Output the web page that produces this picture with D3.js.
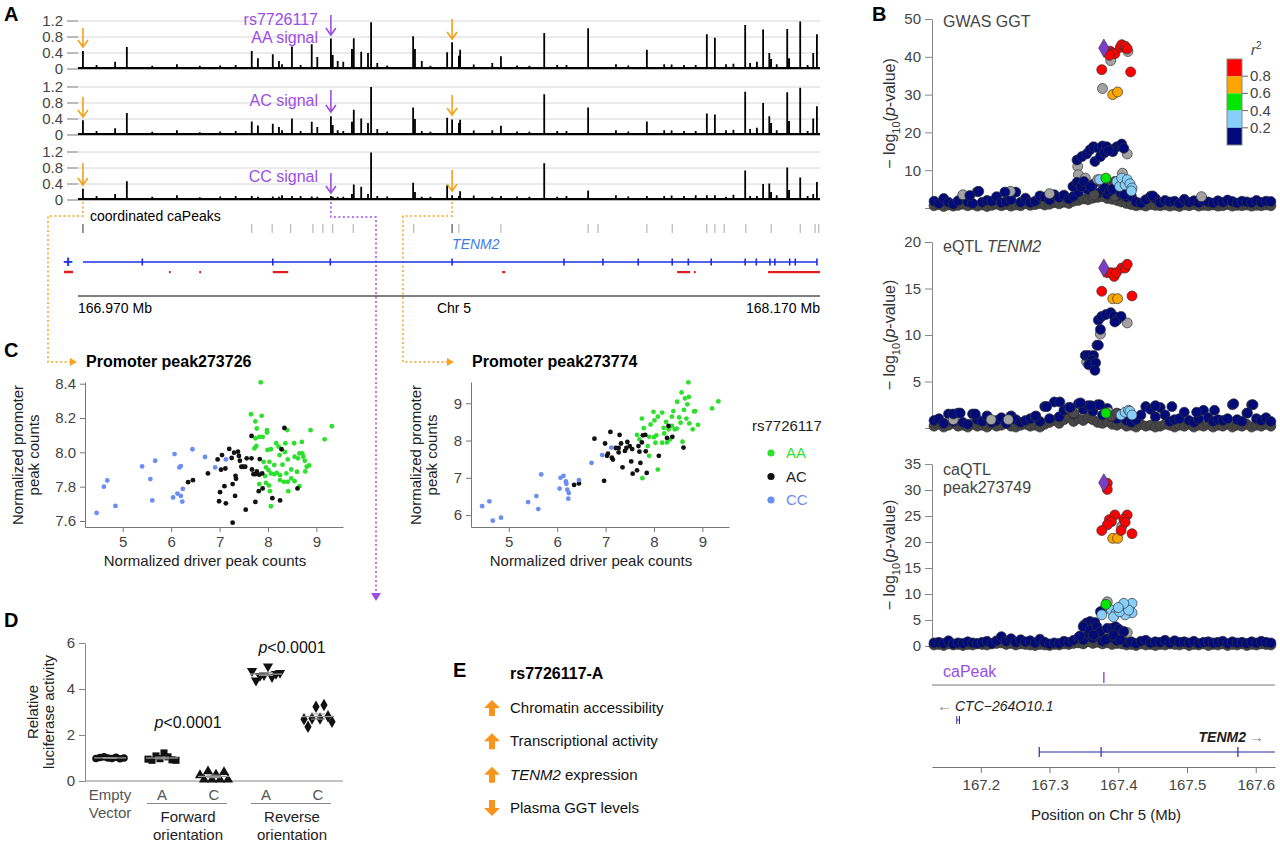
<!DOCTYPE html>
<html>
<head>
<meta charset="utf-8">
<script src="https://cdn.jsdelivr.net/npm/d3@7"></script>
<style>
  body { margin: 0; background: #fff; }
  svg { font-family: "Liberation Sans", Arial, Helvetica, sans-serif; }
</style>
</head>
<body>
<div id="canvas"></div>
<script>
// ================= DATA =================

// Panel A: signal peaks (Mb) and heights per genotype track
const peakPos = [166.978,167.030,167.049,167.167,167.251,167.261,167.285,167.295,167.316,167.348,
  167.357,167.379,167.382,167.390,167.399,167.413,167.416,167.428,167.439,167.444,
  167.454,167.512,167.515,167.526,167.567,167.575,167.586,167.588,167.640,167.654,
  167.724,167.745,167.795,167.890,167.918,167.969,167.987,168.000,168.018,168.049,
  168.057,168.068,168.078,168.088,168.091,168.117,168.120,168.138,168.159,168.165];
const peakAA = [0.45,0.18,0.55,0.08,0.45,0.27,0.37,0.20,0.56,0.62, 0.30,0.76,0.35,0.20,0.18,0.50,0.77,0.43,0.40,1.17,
  0.15,0.82,0.50,0.20,0.42,0.67,0.33,0.48,0.15,0.32, 0.90,0.10,1.02,0.48,0.12,0.10,0.87,0.78,0.12,1.10,
  0.15,0.18,0.99,0.40,0.25,1.00,0.27,1.19,0.40,0.87];
const peakAC = [0.37,0.17,0.55,0.07,0.34,0.24,0.28,0.20,0.41,0.33, 0.20,0.47,0.25,0.12,0.10,0.33,0.63,0.41,0.30,1.20,
  0.15,0.69,0.40,0.10,0.43,0.39,0.30,0.38,0.12,0.23, 1.02,0.10,0.69,0.34,0.12,0.10,0.54,0.51,0.12,1.08,
  0.15,0.18,0.80,0.47,0.30,1.07,0.35,1.18,0.41,0.72];
const peakCC = [0.28,0.15,0.47,0.07,0.10,0.08,0.09,0.08,0.10,0.09, 0.08,0.10,0.08,0.08,0.08,0.15,0.39,0.33,0.15,1.19,
  0.10,0.43,0.20,0.08,0.37,0.12,0.10,0.22,0.08,0.10, 0.92,0.08,0.24,0.10,0.10,0.12,0.12,0.12,0.08,0.74,
  0.10,0.10,0.40,0.41,0.20,0.81,0.25,0.56,0.15,0.45];
const minorPos = [167.000,167.090,167.130,167.200,167.225,167.300,167.330,167.470,167.540,167.610,
  167.680,167.700,167.760,167.840,167.860,167.930,167.950,168.030,168.100,168.150];
const minorH = [0.10,0.08,0.12,0.09,0.10,0.12,0.10,0.09,0.08,0.11,0.09,0.08,0.10,0.12,0.09,0.11,0.10,0.13,0.12,0.10];
const trackTicks = [0, 0.4, 0.8, 1.2];

const caPeakPos = [166.978,167.251,167.284,167.314,167.350,167.366,167.382,167.415,167.513,167.575,
  167.586,167.654,167.795,167.811,167.890,167.931,167.987,168.000,168.015,168.050,168.091,168.138,168.162,168.168];
const caPeakDark = [166.978, 167.575];
const tenm2Span = [166.978, 168.165];
const tenm2Exons = [167.074,167.285,167.378,167.575,167.756,167.819,167.876,167.931,167.957,167.994,
  168.049,168.067,168.089,168.097,168.121,168.130,168.165];
const minusFeatures = [[167.117,167.120],[167.166,167.169],[167.285,167.310],[167.656,167.661],
  [167.939,167.960],[167.966,167.969],[168.086,168.170]];
const snpPos = 167.379;

// Panel B: LocusZoom points [position Mb, -log10 p]
const bgPos = [167.132,167.139,167.146,167.153,167.160,167.167,167.174,167.181,167.188,167.195,
  167.202,167.209,167.216,167.223,167.230,167.237,167.244,167.251,167.258,167.265,
  167.272,167.279,167.286,167.293,167.300,167.307,167.314,167.321,167.328,167.335,
  167.342,167.349,167.356,167.363,167.370,167.377,167.384,167.391,167.398,167.405,
  167.412,167.419,167.426,167.433,167.440,167.447,167.454,167.461,167.468,167.475,
  167.482,167.489,167.496,167.503,167.510,167.517,167.524,167.531,167.538,167.545,
  167.552,167.559,167.566,167.573,167.580,167.587,167.594,167.601,167.608,167.615,167.622];

const gwasBgNavy = [1.8,1.2,2.5,1.5,1.0,1.9,3.3,1.6,1.2,4.3, 1.5,2.0,1.8,3.0,1.4,1.7,2.2,4.2,1.5,2.6,
  1.4,1.8,3.2,2.9,2.1,3.5,2.8,3.4,2.4,3.1, 4.2,5.6,4.8,6.2,3.9,4.6,3.6,4.4,3.2,3.8,
  2.9,3.1,1.6,1.3,2.2,3.1,2.5,1.4,2.0,1.6, 1.8,1.2,2.3,1.5,1.9,1.4,2.0,1.6,1.3,1.9,
  1.5,2.1,1.7,1.3,1.8,1.6,1.4,2.0,1.5,1.8,1.7];
const gwasBgDark = [0.6,0.9,0.4,0.8,0.5,0.7,1.0,0.6,0.9,0.5, 0.8,0.4,0.7,1.0,0.6,0.9,0.5,0.8,0.6,1.1,
  0.7,0.9,1.2,0.8,1.0,1.4,1.1,1.5,1.2,1.8, 2.0,2.4,2.2,2.6,2.8,3.0,2.5,2.3,2.0,1.6,
  1.2,0.9,0.6,0.8,0.5,0.9,0.7,0.6,0.8,0.5, 0.7,0.4,0.8,0.6,0.9,0.5,0.7,0.6,0.8,0.5,
  0.6,0.9,0.5,0.7,0.6,0.8,0.5,0.7,0.6,0.8,0.6];
const gwasLead = [[167.379,42.3]];
const gwasRed = [[167.385,41.0],[167.388,41.5],[167.391,41.0],[167.395,40.8],[167.387,40.4],[167.403,42.5],
  [167.405,43.2],[167.410,42.8],[167.413,42.1],[167.376,36.6],[167.418,36.0]];
const gwasOrange = [[167.392,30.0],[167.399,30.7]];
const gwasGreen = [[167.382,7.9]];
const gwasLightBlue = [[167.373,7.5],[167.398,7.0],[167.402,5.7],[167.405,7.9],[167.410,6.1],[167.413,7.5],
  [167.417,6.4],[167.420,5.3],[167.419,4.5]];
const gwasGray = [[167.377,31.6],[167.389,39.0],[167.414,41.4],[167.341,11.0],[167.413,14.3],[167.342,8.8],
  [167.406,9.2],[167.352,7.9],[167.370,7.5],[167.174,3.5],[167.243,4.4],[167.521,3.0],[167.300,3.8]];
const gwasDark = [[167.375,6.8],[167.385,6.5],[167.390,6.2],[167.395,7.0],[167.400,6.6],[167.365,3.5],[167.395,3.2]];
const gwasNavy = [[167.340,12.7],[167.347,13.6],[167.354,14.3],[167.359,15.4],[167.364,16.2],[167.371,15.8],
  [167.377,16.4],[167.383,16.2],[167.392,15.5],[167.398,16.2],[167.405,16.9],[167.408,15.8],[167.366,12.3],
  [167.374,13.6],[167.380,14.6],[167.392,14.9],[167.386,15.2],[167.334,5.7],[167.340,6.8],[167.346,5.7],
  [167.350,7.0],[167.360,5.7],[167.380,5.3],[167.387,4.4],[167.392,5.0],[167.404,3.9],[167.409,3.5],
  [167.184,3.3],[167.197,4.4],[167.235,4.2],[167.450,3.2]];

const eqtlBgNavy = [0.8,1.0,0.5,1.5,0.7,1.6,0.6,0.4,1.5,0.9, 0.7,1.3,0.6,0.8,1.1,0.5,1.3,0.9,0.6,0.8,
  1.0,1.2,0.7,2.3,1.0,2.8,1.2,1.9,2.2,1.5, 2.6,2.0,2.4,1.8,2.5,1.4,2.1,1.2,1.0,1.3,
  0.8,0.6,0.9,1.4,2.3,2.0,1.2,2.2,1.4,0.7, 0.9,1.0,1.7,0.8,0.6,1.0,1.9,1.1,0.7,0.9,
  0.8,1.0,2.5,0.9,0.7,1.6,2.5,1.0,0.8,1.1,0.7];
const eqtlBgDark = [0.2,0.4,0.1,0.3,0.5,0.2,0.3,0.1,0.4,0.2, 0.3,0.1,0.4,0.2,0.3,0.5,0.2,0.1,0.3,0.4,
  0.2,0.3,0.1,0.4,0.6,0.8,0.5,0.9,1.2,0.7, 1.0,0.8,1.1,0.9,0.6,0.5,0.7,0.4,0.3,0.5,
  0.2,0.3,0.1,0.4,0.2,0.3,0.1,0.2,0.4,0.3, 0.1,0.3,0.2,0.4,0.1,0.3,0.2,0.4,0.1,0.3,
  0.2,0.4,0.1,0.3,0.2,0.4,0.1,0.3,0.2,0.4,0.2];
const eqtlLead = [[167.379,17.2]];
const eqtlRed = [[167.384,16.7],[167.390,16.7],[167.394,16.3],[167.397,16.7],[167.405,17.2],[167.410,17.2],
  [167.413,17.6],[167.376,14.7],[167.420,14.2]];
const eqtlOrange = [[167.392,13.9],[167.399,13.9]];
const eqtlGreen = [[167.382,1.6]];
const eqtlLightBlue = [[167.404,1.4],[167.410,1.7],[167.415,1.9],[167.417,1.8],[167.420,1.4]];
const eqtlGray = [[167.374,10.1],[167.413,11.3],[167.354,7.1],[167.386,1.7],[167.160,0.9],[167.215,0.9],[167.240,0.9]];
const eqtlDark = [[167.330,2.0],[167.335,1.6],[167.390,1.3],[167.398,1.6]];
const eqtlNavy = [[167.371,11.6],[167.376,12.0],[167.382,12.2],[167.389,12.4],[167.394,12.0],[167.398,11.6],
  [167.404,12.0],[167.395,11.4],[167.374,10.6],[167.369,8.9],[167.371,8.9],[167.352,7.8],[167.357,7.8],
  [167.364,7.8],[167.362,7.3],[167.357,6.8],[167.367,7.0],[167.366,6.2],[167.296,2.3],[167.315,2.8],
  [167.345,2.7],[167.373,2.5],[167.454,2.4],[167.478,2.3],[167.568,2.6],[167.596,2.5],[167.160,1.5],
  [167.170,1.6],[167.192,1.5],[167.280,1.3],[167.514,1.7],[167.540,1.9],[167.588,1.6],[167.330,2.2],[167.360,2.4]];

const caBgNavy = [0.6,0.7,0.5,1.0,0.4,0.6,0.5,0.8,0.6,0.5, 0.7,0.9,0.5,1.0,1.8,0.9,1.4,0.7,1.2,0.8,
  1.0,0.6,1.3,0.7,0.4,0.6,0.5,0.9,0.7,1.1, 1.6,1.2,2.3,1.5,1.9,0.9,1.4,1.6,1.0,1.3,
  0.6,0.8,0.5,0.9,1.1,0.6,0.8,0.7,1.1,0.6, 1.0,0.7,0.8,0.6,0.9,0.5,0.7,0.8,0.6,0.7,
  0.9,0.5,0.8,0.6,0.7,0.5,0.8,0.6,0.9,0.7,0.6];
const caBgDark = [0.2,0.3,0.1,0.4,0.2,0.3,0.1,0.3,0.2,0.4, 0.3,0.2,0.4,0.5,0.6,0.3,0.5,0.2,0.4,0.3,
  0.2,0.1,0.3,0.2,0.1,0.3,0.2,0.4,0.3,0.5, 0.6,0.4,0.8,0.5,0.7,0.4,0.6,0.3,0.5,0.4,
  0.2,0.3,0.1,0.4,0.2,0.3,0.1,0.3,0.2,0.4, 0.3,0.2,0.4,0.1,0.3,0.2,0.4,0.1,0.3,0.2,
  0.4,0.1,0.3,0.2,0.4,0.1,0.3,0.2,0.4,0.3,0.2];
const caLead = [[167.379,31.4]];
const caRed = [[167.384,31.3],[167.384,30.1],[167.387,24.3],[167.395,25.2],[167.390,23.9],[167.384,23.3],
  [167.413,25.2],[167.408,24.4],[167.410,23.8],[167.404,22.2],[167.376,22.2],[167.420,21.6]];
const caOrange = [[167.392,20.7],[167.399,20.7]];
const caGreen = [[167.382,8.0]];
const caLightBlue = [[167.390,6.9],[167.397,6.4],[167.405,7.6],[167.413,7.7],[167.420,8.2],[167.420,6.4],
  [167.410,6.0],[167.393,5.6],[167.376,6.0],[167.402,6.6],[167.415,6.9],[167.408,8.2],[167.400,7.4]];
const caGray = [[167.405,23.0],[167.384,8.5],[167.378,6.9],[167.413,2.6],[167.354,4.4],[167.406,2.4]];
const caDark = [[167.350,4.0],[167.356,3.6]];
const caNavy = [[167.374,6.6],[167.354,4.4],[167.359,4.7],[167.366,4.5],[167.349,3.7],[167.359,3.1],
  [167.369,3.7],[167.374,2.8],[167.384,3.4],[167.391,3.4],[167.396,3.7],[167.401,3.2],[167.408,2.8],
  [167.364,2.1],[167.393,2.1],[167.381,1.2],[167.403,1.2],[167.344,1.9]];

const r2Labels = ["0.8", "0.6", "0.4", "0.2"];
const r2Colors = ["#ff0000", "#ffa500", "#00e600", "#87cefa", "#000a78"];
const locusTicksX = [167.2, 167.3, 167.4, 167.5, 167.6];
const tenm2Locus = [167.285, 167.628];
const tenm2LocusExons = [167.285, 167.375, 167.574];
const ctcGene = [167.165, 167.169];

// Panel C: [driver counts, promoter counts]
const c1AA = [[7.85,8.408],[7.65,8.222],[7.74,8.18],[7.87,8.213],[7.77,8.139],[7.82,8.09],[7.89,8.09],[7.74,8.082],
  [7.98,8.13],[7.98,8.115],[7.76,8.037],[7.72,8.023],[7.99,8.014],[8.06,8.018],[8.17,8.053],[8.22,8.033],
  [8.36,8.053],[8.40,8.13],[8.54,8.053],[8.70,8.061],[8.88,8.129],[9.17,8.076],[9.32,8.152],[7.91,7.945],
  [7.96,7.912],[8.03,7.945],[8.13,7.926],[8.24,7.984],[8.35,8.002],[8.41,7.959],[8.55,7.975],[8.62,7.965],
  [8.65,7.994],[8.71,7.994],[8.76,7.951],[8.80,7.916],[8.85,7.924],[8.77,7.889],[8.60,7.887],[8.48,7.90],
  [8.38,7.877],[8.30,7.928],[8.18,7.881],[8.06,7.877],[8.01,7.897],[7.94,7.862],[8.25,7.838],[8.33,7.828],
  [8.41,7.828],[8.48,7.848],[8.55,7.832],[8.65,7.803],[8.04,7.774],[8.42,7.774],[8.06,7.686],[7.96,7.822],
  [8.13,7.873],[7.82,7.815],[8.02,7.807],[8.25,7.867],[8.73,7.975]];
const c1AC = [[6.35,7.826],[6.45,7.838],[6.76,7.877],[6.96,7.959],[7.05,7.984],[7.20,8.02],[7.25,7.967],[7.30,7.998],
  [7.03,7.899],[7.12,7.906],[6.99,7.715],[7.01,7.768],[7.10,7.803],[7.13,7.703],[7.27,7.815],[7.33,7.863],
  [7.34,7.846],[7.32,7.746],[7.27,7.59],[7.38,8.004],[7.40,7.979],[7.42,7.951],[7.45,7.916],[7.49,7.916],
  [7.53,7.916],[7.56,7.965],[7.54,7.666],[7.66,8.096],[7.66,7.965],[7.67,7.90],[7.70,7.873],[7.74,7.873],
  [7.77,7.889],[7.82,7.87],[7.74,7.711],[7.83,7.961],[7.81,7.774],[7.88,7.877],[7.89,7.79],[8.28,8.018],
  [8.34,8.142],[8.09,7.733],[8.25,7.72],[8.61,7.79]];
const c1CC = [[4.46,7.647],[4.61,7.80],[4.68,7.836],[4.85,7.688],[5.40,7.918],[5.57,7.844],[5.67,7.951],[5.61,7.72],
  [6.07,7.99],[6.04,7.737],[6.13,7.76],[6.17,7.912],[6.20,7.92],[6.20,7.746],[6.24,7.787],[6.23,7.713],
  [6.44,8.018],[6.70,7.973],[6.91,7.912],[7.13,7.959]];

const c2AA = [[7.75,8.59],[7.76,6.99],[7.65,8.15],[7.70,8.03],[7.79,8.33],[7.87,7.85],[7.90,7.59],[7.93,8.43],
  [7.99,8.77],[8.01,8.54],[8.00,8.09],[8.05,8.14],[8.03,7.94],[8.08,8.64],[8.08,7.22],[8.17,8.75],
  [8.20,8.34],[8.21,8.19],[8.25,8.50],[8.30,8.30],[8.33,8.03],[8.37,8.39],[8.37,8.64],[8.40,8.79],
  [8.43,8.30],[8.48,9.04],[8.52,8.62],[8.55,8.48],[8.57,9.29],[8.59,7.97],[8.62,8.82],[8.64,9.13],
  [8.67,8.59],[8.69,8.97],[8.71,9.56],[8.72,9.17],[8.73,8.46],[8.80,8.30],[8.85,8.79],[8.91,8.42],
  [8.83,8.78],[9.20,8.86],[9.33,9.05],[8.47,8.32],[8.27,7.95],[8.17,7.94],[7.90,8.10]];
const c2AC = [[6.35,6.81],[6.45,6.85],[6.77,8.05],[6.97,6.92],[6.99,7.92],[7.03,7.59],[7.05,7.65],[7.10,8.23],
  [7.13,7.54],[7.15,7.49],[7.21,7.80],[7.27,7.80],[7.29,8.15],[7.32,7.92],[7.35,7.28],[7.27,7.68],
  [7.40,7.72],[7.43,7.80],[7.45,7.96],[7.50,7.85],[7.55,7.77],[7.56,7.11],[7.65,7.20],[7.68,7.85],
  [7.70,7.70],[7.53,7.44],[7.72,7.40],[7.75,7.95],[7.77,8.14],[7.82,8.15],[7.83,7.71],[7.85,7.13],
  [8.10,7.59],[8.27,8.07],[8.30,8.39],[8.38,8.10],[8.61,7.81]];
const c2CC = [[4.45,6.24],[4.60,6.37],[4.67,5.85],[4.84,5.93],[5.40,6.35],[5.57,6.51],[5.61,6.16],[5.67,7.09],
  [6.05,6.71],[6.07,7.00],[6.13,7.05],[6.18,6.90],[6.19,6.84],[6.21,6.68],[6.24,6.59],[6.23,6.44],
  [6.45,6.94],[6.71,7.40],[6.93,7.61],[7.12,7.81]];
const genotypes = ["AA", "AC", "CC"];
const genoColors = ["#2ee02e", "#111111", "#6b8ef2"];

// Panel D: relative luciferase activity
const dGroups = ["Empty", "FwdA", "FwdC", "RevA", "RevC"];
const dEmpty = [0.98,1.02,1.05,1.00,0.98,1.03,0.97,1.00];
const dFwdA = [0.95,0.90,1.09,0.97,1.22,1.05,0.92,0.90];
const dFwdC = [0.25,0.06,0.42,0.06,0.28,0.06,0.39,0.06];
const dRevA = [4.78,4.37,4.57,4.60,4.98,4.52,4.66,4.70];
const dRevC = [2.69,2.36,2.72,3.23,2.72,3.30,2.82,2.58];
const dTicks = [0, 2, 4, 6];

// Panel E
const eItems = ["Chromatin accessibility", "Transcriptional activity", "TENM2 expression", "Plasma GGT levels"];
const eDir = ["up", "up", "up", "down"];

// ================= DRAW =================
const ORANGE = "#f5a21f", PURPLE = "#9b4ee6";
const svg = d3.select("#canvas").append("svg").attr("width", 1280).attr("height", 847);

function letter(t, x, y) {
  svg.append("text").attr("x", x).attr("y", y).attr("font-size", 20).attr("font-weight", "bold").text(t);
}
function downArrow(g, x, y1, y2, color) {
  g.append("path").attr("d", `M${x},${y1}V${y2}M${x - 5},${y2 - 7}L${x},${y2}L${x + 5},${y2 - 7}`)
    .attr("stroke", color).attr("stroke-width", 1.6).attr("fill", "none");
}
function styleAxis(a, col) {
  a.attr("font-size", 15).attr("font-family", null);
  a.selectAll("path,line").attr("stroke", col || "#888");
  a.selectAll("text").attr("fill", "#444");
}

// ---- PANEL A ----
letter("A", 4, 21);
const xA = d3.scaleLinear().domain([166.97, 168.17]).range([78, 820]);
const tracks = [
  { h: peakAA, y0: 69, label: ["rs7726117", "AA signal"], ly: [25, 43], pa: [15, 35], oa: [28, 47], ob: [19, 39] },
  { h: peakAC, y0: 135, label: ["AC signal"], ly: [106], pa: [90, 112], oa: [97, 117], ob: [95, 115] },
  { h: peakCC, y0: 200, label: ["CC signal"], ly: [182], pa: [173, 193], oa: [163, 185], ob: [170, 191] }
];
const gA = svg.append("g");
tracks.forEach(t => {
  const y = d3.scaleLinear().domain([0, 1.2]).range([t.y0, t.y0 - 48]);
  // gridlines and ticks
  trackTicks.forEach(v => {
    gA.append("line").attr("x1", 78).attr("x2", 820).attr("y1", y(v)).attr("y2", y(v))
      .attr("stroke", v === 0 ? "#777" : "#d6d6d6").attr("stroke-width", 1);
    gA.append("line").attr("x1", 67).attr("x2", 78).attr("y1", y(v)).attr("y2", y(v)).attr("stroke", "#777");
    gA.append("text").attr("x", 63).attr("y", y(v) + 5).attr("text-anchor", "end")
      .attr("font-size", 15).attr("fill", "#444").text(v === 0 ? "0" : v.toFixed(1));
  });
  // signal: thin baseline with narrow spikes
  const pts = d3.sort(peakPos.map((p, i) => [p, t.h[i]]).concat(minorPos.map((p, i) => [p, minorH[i]])), d => d[0]);
  const base = 0.05;
  const line = [[xA.range()[0], base]];
  pts.forEach(d => {
    const px = xA(d[0]);
    line.push([px - 0.9, base], [px - 0.9, d[1]], [px + 0.9, d[1]], [px + 0.9, base]);
  });
  line.push([xA.range()[1], base]);
  gA.append("path").datum(line)
    .attr("d", d3.area().x(d => d[0]).y0(y(0)).y1(d => y(d[1])))
    .attr("fill", "#000");
  // labels and arrows
  t.label.forEach((s, i) => gA.append("text").attr("x", 318).attr("y", t.ly[i]).attr("text-anchor", "end")
    .attr("font-size", 16).attr("fill", PURPLE).text(s));
  downArrow(gA, xA(snpPos), t.pa[0], t.pa[1], PURPLE);
  downArrow(gA, xA(caPeakDark[0]), t.oa[0], t.oa[1], ORANGE);
  downArrow(gA, xA(caPeakDark[1]), t.ob[0], t.ob[1], ORANGE);
});

// coordinated caPeaks
gA.append("text").attr("x", 90).attr("y", 221).attr("font-size", 14).text("coordinated caPeaks");
gA.selectAll(".capk").data(caPeakPos).join("line")
  .attr("x1", d => xA(d)).attr("x2", d => xA(d)).attr("y1", 224).attr("y2", 233)
  .attr("stroke", d => caPeakDark.includes(d) ? "#333" : "#aaa").attr("stroke-width", 1);

// connectors
const dash = "2,2.5";
[[caPeakDark[0], 48, 362, 70], [caPeakDark[1], 403, 362, 447]].forEach(([p, vx, vy, ex]) => {
  gA.append("path").attr("d", `M${xA(p)},202V216H${vx}V${vy}H${ex}`)
    .attr("fill", "none").attr("stroke", ORANGE).attr("stroke-width", 1.5).attr("stroke-dasharray", dash);
  gA.append("path").attr("d", `M${ex},${vy - 4}L${ex + 7},${vy}L${ex},${vy + 4}Z`).attr("fill", ORANGE);
});
gA.append("path").attr("d", `M${xA(snpPos)},202V217H376V592`)
  .attr("fill", "none").attr("stroke", PURPLE).attr("stroke-width", 1.5).attr("stroke-dasharray", dash);
gA.append("path").attr("d", "M371,593L381,593L376,601Z").attr("fill", PURPLE);

// genes
gA.append("text").attr("x", xA(167.575)).attr("y", 249).attr("font-size", 14).attr("font-style", "italic")
  .attr("fill", "#3b7de2").text("TENM2");
gA.append("text").attr("x", 68).attr("y", 267).attr("text-anchor", "middle").attr("font-size", 17)
  .attr("font-weight", "bold").attr("fill", "#1d2fe0").text("+");
gA.append("line").attr("x1", xA(tenm2Span[0])).attr("x2", xA(tenm2Span[1])).attr("y1", 262).attr("y2", 262)
  .attr("stroke", "#1d2fe0").attr("stroke-width", 1.6);
gA.selectAll(".exon").data(tenm2Exons).join("line")
  .attr("x1", d => xA(d)).attr("x2", d => xA(d)).attr("y1", 258.5).attr("y2", 265.5)
  .attr("stroke", "#1d2fe0").attr("stroke-width", 1.6);
gA.append("line").attr("x1", 64).attr("x2", 73).attr("y1", 272).attr("y2", 272).attr("stroke", "#e21c1c").attr("stroke-width", 2.5);
gA.selectAll(".minus").data(minusFeatures).join("rect")
  .attr("x", d => xA(d[0])).attr("width", d => Math.max(1.5, xA(d[1]) - xA(d[0])))
  .attr("y", 271).attr("height", 2.2).attr("fill", "#e21c1c");
gA.append("line").attr("x1", 78).attr("x2", 820).attr("y1", 296).attr("y2", 296).attr("stroke", "#555").attr("stroke-width", 1.5);
gA.append("text").attr("x", 78).attr("y", 313).attr("font-size", 14).text("166.970 Mb");
gA.append("text").attr("x", 454).attr("y", 313).attr("text-anchor", "middle").attr("font-size", 14).text("Chr 5");
gA.append("text").attr("x", 820).attr("y", 313).attr("text-anchor", "end").attr("font-size", 14).text("168.170 Mb");

// ---- PANEL B ----
letter("B", 872, 21);
const xB = d3.scaleLinear().domain([167.129, 167.628]).range([932, 1275]);
const panelsB = [
  { y0: 208, yTop: 19, max: 50, ticks: [0, 10, 20, 30, 40, 50], zero: false, title: [["GWAS GGT"]], ty: [27],
    bgN: gwasBgNavy, bgD: gwasBgDark, gray: gwasGray, dark: gwasDark, navy: gwasNavy, lb: gwasLightBlue,
    green: gwasGreen, orange: gwasOrange, red: gwasRed, lead: gwasLead },
  { y0: 428, yTop: 242, max: 20, ticks: [0, 5, 10, 15, 20], zero: false, title: [["eQTL ", "TENM2"]], ty: [252],
    bgN: eqtlBgNavy, bgD: eqtlBgDark, gray: eqtlGray, dark: eqtlDark, navy: eqtlNavy, lb: eqtlLightBlue,
    green: eqtlGreen, orange: eqtlOrange, red: eqtlRed, lead: eqtlLead },
  { y0: 646, yTop: 464, max: 35, ticks: [0, 5, 10, 15, 20, 25, 30, 35], zero: true, title: [["caQTL"], ["peak273749"]], ty: [475, 493],
    bgN: caBgNavy, bgD: caBgDark, gray: caGray, dark: caDark, navy: caNavy, lb: caLightBlue,
    green: caGreen, orange: caOrange, red: caRed, lead: caLead }
];
panelsB.forEach(p => {
  const y = d3.scaleLinear().domain([0, p.max]).range([p.y0, p.yTop]);
  const g = svg.append("g");
  const ax = g.append("g").attr("transform", "translate(932,0)")
    .call(d3.axisLeft(y).tickValues(p.ticks).tickSize(7).tickSizeOuter(0).tickPadding(4)
      .tickFormat(d => (d === 0 && !p.zero) ? "" : d));
  styleAxis(ax);
  // y label
  const lab = g.append("text").attr("transform", `translate(895,${(p.y0 + p.yTop) / 2}) rotate(-90)`)
    .attr("text-anchor", "middle").attr("font-size", 16).attr("fill", "#333");
  lab.append("tspan").text("\u2212 log");
  lab.append("tspan").attr("font-size", 11).attr("dy", 5).text("10");
  lab.append("tspan").attr("dy", -5).text("(");
  lab.append("tspan").attr("font-style", "italic").text("p");
  lab.append("tspan").text("-value)");
  // title
  p.title.forEach((parts, i) => {
    const t = g.append("text").attr("x", 943).attr("y", p.ty[i]).attr("font-size", 16).attr("fill", "#444");
    parts.forEach((s, j) => t.append("tspan").attr("font-style", j === 1 ? "italic" : null).text(s));
  });
  // points
  const dot = (data, fill) => g.append("g").selectAll("circle").data(data).join("circle")
    .attr("cx", d => xB(d[0])).attr("cy", d => y(d[1])).attr("r", 5)
    .attr("fill", fill).attr("stroke", "#333").attr("stroke-width", 0.7);
  dot(d3.zip(bgPos, p.bgD), "#454545");
  dot(d3.zip(bgPos, p.bgN), "#000a78");
  dot(p.gray, "#a3a3a3");
  dot(p.dark, "#4a4a4a");
  dot(p.navy, "#000a78");
  dot(p.lb, "#87cefa");
  dot(p.green, "#00e600");
  dot(p.orange, "#ffa500");
  dot(p.red, "#ff0000");
  g.append("g").selectAll("path").data(p.lead).join("path")
    .attr("transform", d => `translate(${xB(d[0])},${y(d[1])})`)
    .attr("d", d3.symbol(d3.symbolDiamond, 95)).attr("fill", "#7a3ec9").attr("stroke", "#333").attr("stroke-width", 0.6);
});

// r2 legend
const r2 = svg.append("g");
const yR2 = d3.scaleBand().domain(r2Colors).range([59, 145]);
r2.selectAll("rect").data(r2Colors).join("rect")
  .attr("x", 1227).attr("width", 15).attr("y", d => yR2(d)).attr("height", yR2.bandwidth()).attr("fill", d => d);
r2.append("rect").attr("x", 1227).attr("y", 59).attr("width", 15).attr("height", 86)
  .attr("fill", "none").attr("stroke", "#888");
r2Labels.forEach((s, i) => {
  const yy = yR2(r2Colors[i + 1]);
  r2.append("line").attr("x1", 1242).attr("x2", 1248).attr("y1", yy).attr("y2", yy).attr("stroke", "#666");
  r2.append("text").attr("x", 1250).attr("y", yy + 5).attr("font-size", 15).attr("fill", "#444").text(s);
});
const r2t = r2.append("text").attr("x", 1251).attr("y", 55).attr("font-size", 15).attr("fill", "#444").attr("font-style", "italic");
r2t.append("tspan").text("r");
r2t.append("tspan").attr("font-size", 10).attr("dy", -6).attr("font-style", "normal").text("2");

// caPeak and genes track
const gB = svg.append("g");
gB.append("text").attr("x", 943).attr("y", 677).attr("font-size", 16).attr("fill", PURPLE).text("caPeak");
gB.append("line").attr("x1", xB(snpPos)).attr("x2", xB(snpPos)).attr("y1", 672).attr("y2", 683)
  .attr("stroke", PURPLE).attr("stroke-width", 1.5);
gB.append("line").attr("x1", 932).attr("x2", 1275).attr("y1", 685).attr("y2", 685).attr("stroke", "#777");
gB.append("text").attr("x", 937).attr("y", 711).attr("font-size", 15).attr("fill", "#888").text("\u2190");
gB.append("text").attr("x", 955).attr("y", 711).attr("font-size", 14).attr("font-style", "italic").attr("fill", "#222").text("CTC\u2212264O10.1");
gB.append("line").attr("x1", xB(ctcGene[0])).attr("x2", xB(ctcGene[1])).attr("y1", 720).attr("y2", 720).attr("stroke", "#2a2aa0");
ctcGene.forEach(v => gB.append("line").attr("x1", xB(v)).attr("x2", xB(v)).attr("y1", 716).attr("y2", 724).attr("stroke", "#2a2aa0"));
gB.append("text").attr("x", 1246).attr("y", 742).attr("text-anchor", "end").attr("font-size", 14)
  .attr("font-style", "italic").attr("font-weight", "bold").attr("fill", "#222").text("TENM2");
gB.append("text").attr("x", 1249).attr("y", 742).attr("font-size", 15).attr("fill", "#888").text("\u2192");
gB.append("line").attr("x1", xB(tenm2Locus[0])).attr("x2", xB(tenm2Locus[1])).attr("y1", 752).attr("y2", 752)
  .attr("stroke", "#2a2aa0").attr("stroke-width", 1.2);
tenm2LocusExons.forEach(v => gB.append("line").attr("x1", xB(v)).attr("x2", xB(v)).attr("y1", 747).attr("y2", 757)
  .attr("stroke", "#2a2aa0").attr("stroke-width", 1.2));
const axB = gB.append("g").attr("transform", "translate(0,767)")
  .call(d3.axisBottom(xB).tickValues(locusTicksX).tickSize(6).tickSizeOuter(0).tickPadding(6).tickFormat(d3.format(".1f")));
styleAxis(axB, "#777");
gB.append("text").attr("x", 1106).attr("y", 820).attr("text-anchor", "middle").attr("font-size", 15)
  .attr("fill", "#222").text("Position on Chr 5 (Mb)");

// ---- PANEL C ----
letter("C", 4, 357);
const xDom = [4.22, 9.55];
function scatter(cfg) {
  const g = svg.append("g");
  const x = d3.scaleLinear().domain(xDom).range([cfg.left, cfg.left + 258]);
  const y = d3.scaleLinear().domain(cfg.yDom).range([527, 382]);
  const ax = g.append("g").attr("transform", "translate(0,527)")
    .call(d3.axisBottom(x).tickValues([5, 6, 7, 8, 9]).tickSize(5).tickSizeOuter(0).tickPadding(4).tickFormat(d3.format("d")));
  const ay = g.append("g").attr("transform", `translate(${cfg.left},0)`)
    .call(d3.axisLeft(y).tickValues(cfg.ticks).tickSize(5).tickSizeOuter(0).tickPadding(4).tickFormat(cfg.fmt));
  styleAxis(ax, "#777");
  styleAxis(ay, "#777");
  g.append("text").attr("x", cfg.left + 1).attr("y", 367).attr("font-size", 16).attr("font-weight", "bold").text(cfg.title);
  g.append("text").attr("x", cfg.left + 120).attr("y", 566).attr("text-anchor", "middle").attr("font-size", 15)
    .attr("fill", "#222").text("Normalized driver peak counts");
  ["Normalized promoter", "peak counts"].forEach((s, i) =>
    g.append("text").attr("transform", `translate(${cfg.ylx + i * 16},455) rotate(-90)`)
      .attr("text-anchor", "middle").attr("font-size", 15).attr("fill", "#222").text(s));
  cfg.sets.forEach((set, i) => g.append("g").selectAll("circle").data(set).join("circle")
    .attr("cx", d => x(d[0])).attr("cy", d => y(d[1])).attr("r", 2.4).attr("fill", genoColors[i]));
}
scatter({ left: 85, yDom: [7.565, 8.41], ticks: [7.6, 7.8, 8.0, 8.2, 8.4], fmt: d3.format(".1f"),
  title: "Promoter peak273726", ylx: 23, sets: [c1AA, c1AC, c1CC] });
scatter({ left: 471, yDom: [5.68, 9.57], ticks: [6, 7, 8, 9], fmt: d3.format("d"),
  title: "Promoter peak273774", ylx: 421, sets: [c2AA, c2AC, c2CC] });
// legend
const legC = svg.append("g");
legC.append("text").attr("x", 752).attr("y", 431).attr("font-size", 15).attr("fill", "#222").text("rs7726117");
genotypes.forEach((s, i) => {
  legC.append("circle").attr("cx", 771).attr("cy", 453 + i * 23.5).attr("r", 3.6).attr("fill", genoColors[i]);
  legC.append("text").attr("x", 786).attr("y", 458 + i * 23.5).attr("font-size", 15)
    .attr("fill", i === 1 ? "#222" : genoColors[i]).text(s);
});

// ---- PANEL D ----
letter("D", 4, 627);
const gD = svg.append("g");
const yD = d3.scaleLinear().domain([0, 6]).range([781, 643]);
const xD = d3.scalePoint().domain(dGroups).range([110, 318]);
const jit = d3.scalePoint().domain(d3.range(8)).range([-14, 14]);
const ayD = gD.append("g").attr("transform", "translate(85,0)")
  .call(d3.axisLeft(yD).tickValues(dTicks).tickSize(6).tickSizeOuter(0).tickPadding(4).tickFormat(d3.format("d")));
styleAxis(ayD);
gD.append("line").attr("x1", 85).attr("x2", 343).attr("y1", 781).attr("y2", 781).attr("stroke", "#888");
["Relative", "luciferase activity"].forEach((s, i) =>
  gD.append("text").attr("transform", `translate(${38 + i * 16},712) rotate(-90)`)
    .attr("text-anchor", "middle").attr("font-size", 15).attr("fill", "#222").text(s));
const dSets = [dEmpty, dFwdA, dFwdC, dRevA, dRevC];
const dShapes = [d3.symbolCircle, d3.symbolSquare, d3.symbolTriangle, d3.symbolTriangle, d3.symbolDiamond];
const dRot = [0, 0, 0, 180, 0];
dSets.forEach((vals, k) => {
  const cx = xD(dGroups[k]);
  const m = d3.mean(vals), se = d3.deviation(vals) / Math.sqrt(vals.length);
  gD.append("g").selectAll("path").data(vals).join("path")
    .attr("transform", (d, i) => `translate(${cx + jit(i)},${yD(d)}) rotate(${dRot[k]})`)
    .attr("d", d3.symbol(dShapes[k], k === 1 ? 50 : 45)).attr("fill", "#111");
  gD.append("line").attr("x1", cx - 16).attr("x2", cx + 16).attr("y1", yD(m)).attr("y2", yD(m)).attr("stroke", "#999").attr("stroke-width", 1.3);
  [m - se, m + se].forEach(v => gD.append("line").attr("x1", cx - 7).attr("x2", cx + 7).attr("y1", yD(v)).attr("y2", yD(v)).attr("stroke", "#999"));
  gD.append("line").attr("x1", cx).attr("x2", cx).attr("y1", yD(m - se)).attr("y2", yD(m + se)).attr("stroke", "#999");
});
const catLab = ["Empty", "A", "C", "A", "C"];
catLab.forEach((s, k) => gD.append("text").attr("x", xD(dGroups[k])).attr("y", 800).attr("text-anchor", "middle")
  .attr("font-size", 15).attr("fill", "#555").text(s));
gD.append("text").attr("x", xD("Empty")).attr("y", 818).attr("text-anchor", "middle").attr("font-size", 15).attr("fill", "#555").text("Vector");
[["FwdA", "FwdC", "Forward"], ["RevA", "RevC", "Reverse"]].forEach(([a, b, s]) => {
  gD.append("line").attr("x1", xD(a) - 15).attr("x2", xD(b) + 13).attr("y1", 803.5).attr("y2", 803.5).attr("stroke", "#888");
  const cx = (xD(a) + xD(b)) / 2;
  gD.append("text").attr("x", cx).attr("y", 822).attr("text-anchor", "middle").attr("font-size", 15).attr("fill", "#222").text(s);
  gD.append("text").attr("x", cx).attr("y", 840).attr("text-anchor", "middle").attr("font-size", 15).attr("fill", "#222").text("orientation");
});
[["FwdA", "FwdC", 728], ["RevA", "RevC", 653]].forEach(([a, b, yy]) => {
  const t = gD.append("text").attr("x", (xD(a) + xD(b)) / 2).attr("y", yy).attr("text-anchor", "middle")
    .attr("font-size", 16).attr("fill", "#111");
  t.append("tspan").attr("font-style", "italic").text("p");
  t.append("tspan").text("<0.0001");
});

// ---- PANEL E ----
letter("E", 453, 677);
const gE = svg.append("g");
gE.append("text").attr("x", 510).attr("y", 679).attr("font-size", 16).attr("font-weight", "bold").text("rs7726117-A");
const yE = d3.scalePoint().domain(eItems).range([713, 813]);
eItems.forEach((s, i) => {
  const yy = yE(s), cx = 492, cy = yy - 5;
  const up = eDir[i] === "up";
  const d = up
    ? `M${cx},${cy - 8}L${cx + 8},${cy}L${cx + 3},${cy}L${cx + 3},${cy + 8}L${cx - 3},${cy + 8}L${cx - 3},${cy}L${cx - 8},${cy}Z`
    : `M${cx},${cy + 8}L${cx + 8},${cy}L${cx + 3},${cy}L${cx + 3},${cy - 8}L${cx - 3},${cy - 8}L${cx - 3},${cy}L${cx - 8},${cy}Z`;
  gE.append("path").attr("d", d).attr("fill", "#f7941d");
  const t = gE.append("text").attr("x", 510).attr("y", yy).attr("font-size", 15).attr("fill", "#111");
  if (s.startsWith("TENM2")) {
    t.append("tspan").attr("font-style", "italic").text("TENM2");
    t.append("tspan").text(s.slice(5));
  } else t.text(s);
});
</script>
</body>
</html>
